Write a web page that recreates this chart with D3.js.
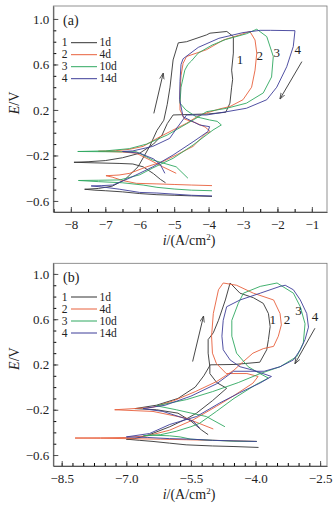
<!DOCTYPE html>
<html>
<head>
<meta charset="utf-8">
<script src="https://cdn.jsdelivr.net/npm/d3@7"></script>
<style>
  body { margin: 0; background: #fff; }
  svg text { font-family: "Times New Roman", "Liberation Serif", Times, serif; fill: #222; }
</style>
</head>
<body>
<div id="chart"></div>
<script>
// series names and colours
const seriesNames = ['1d', '4d', '10d', '14d'];
const seriesColors = ['#333333', '#e8603c', '#2fa860', '#3d3d98'];
const yTicks = [1.0, 0.6, 0.2, -0.2, -0.6];
const aTicks = [-8, -7, -6, -5, -4, -3, -2, -1];
const bTicks = [-8.5, -7.0, -5.5, -4.0, -2.5];

// panel (a): [log i, E], in scan order
const a1 = [[-3.9,-0.56],[-4.5,-0.555],[-5.0,-0.55],[-5.5,-0.545],[-6.0,-0.535],[-6.5,-0.52],[-7.0,-0.51],[-7.3,-0.505],[-7.6,-0.497],
  [-7.2,-0.49],[-6.8,-0.47],[-6.44,-0.415],[-6.05,-0.30],[-5.71,-0.12],[-5.5,0.02],[-5.3,0.11],[-5.2,0.25],[-5.12,0.40],[-5.03,0.64],
  [-4.88,0.79],[-4.64,0.80],[-4.06,0.86],[-3.96,0.875],[-3.47,0.89],[-3.28,0.845],[-3.28,0.70],[-3.33,0.55],[-3.3,0.47],[-3.33,0.40],
  [-3.38,0.26],[-3.5,0.18],[-4.0,0.165],[-4.6,0.16],[-5.03,0.156],[-5.2,0.08],[-5.35,-0.02],[-5.6,-0.1],[-6.0,-0.18],[-6.5,-0.22],
  [-7.0,-0.245],[-7.5,-0.255],[-7.91,-0.26],[-7.3,-0.265],[-6.6,-0.27],[-6.2,-0.275],[-5.9,-0.3],[-5.6,-0.36],[-5.4,-0.41],[-5.25,-0.44]];
const a2 = [[-3.9,-0.465],[-4.5,-0.46],[-5.0,-0.455],[-5.5,-0.45],[-6.1,-0.445],[-6.5,-0.42],[-6.8,-0.39],[-6.98,-0.378],[-6.6,-0.372],
  [-6.29,-0.357],[-5.8,-0.3],[-5.33,-0.254],[-4.9,-0.19],[-4.45,-0.12],[-4.07,-0.005],[-3.95,0.01],[-4.1,0.05],[-4.4,0.09],[-4.7,0.12],
  [-4.83,0.2],[-4.83,0.35],[-4.8,0.5],[-4.74,0.61],[-4.64,0.67],[-4.06,0.73],[-3.57,0.815],[-3.09,0.86],[-2.8,0.89],[-2.65,0.815],
  [-2.6,0.70],[-2.65,0.55],[-2.75,0.40],[-3.0,0.29],[-3.38,0.23],[-3.67,0.21],[-4.25,0.156],[-4.64,0.083],[-5.03,0.024],[-5.41,-0.035],
  [-5.9,-0.12],[-6.3,-0.146],[-6.7,-0.158],[-7.2,-0.163],[-6.5,-0.17],[-6.1,-0.18],[-5.7,-0.24],[-5.33,-0.30],[-4.94,-0.357]];
const a3 = [[-3.9,-0.51],[-4.5,-0.505],[-5.0,-0.495],[-5.5,-0.48],[-5.9,-0.46],[-6.5,-0.44],[-7.2,-0.43],[-7.78,-0.42],[-7.2,-0.418],
  [-6.58,-0.415],[-6.0,-0.37],[-5.62,-0.31],[-5.03,-0.225],[-4.45,-0.108],[-3.87,0.024],[-3.63,0.068],[-3.75,0.1],[-3.97,0.112],
  [-4.36,0.14],[-4.66,0.2],[-4.83,0.26],[-4.8,0.4],[-4.69,0.55],[-4.6,0.6],[-4.5,0.63],[-4.3,0.7],[-3.9,0.77],[-3.5,0.82],[-2.9,0.87],
  [-2.6,0.91],[-2.31,0.845],[-2.12,0.67],[-2.17,0.49],[-2.41,0.35],[-2.9,0.26],[-3.47,0.215],[-4.06,0.185],[-4.4,0.12],[-4.8,0.05],
  [-5.2,-0.02],[-5.8,-0.1],[-6.3,-0.14],[-7.0,-0.16],[-7.8,-0.165],[-7.0,-0.167],[-6.1,-0.167],[-5.62,-0.24],[-4.94,-0.30],[-4.6,-0.40]];
const a4 = [[-3.9,-0.556],[-4.5,-0.55],[-5.0,-0.54],[-5.5,-0.53],[-6.0,-0.525],[-6.58,-0.497],[-7.0,-0.48],[-7.41,-0.468],[-7.1,-0.465],
  [-6.78,-0.46],[-6.3,-0.40],[-5.62,-0.30],[-5.03,-0.196],[-4.45,-0.08],[-4.02,0.01],[-3.97,0.053],[-4.26,0.068],[-4.74,0.14],[-4.84,0.29],
  [-4.83,0.45],[-4.8,0.6],[-4.74,0.65],[-4.3,0.75],[-3.7,0.83],[-3.0,0.88],[-2.5,0.9],[-2.2,0.90],[-1.49,0.897],[-1.54,0.757],[-1.73,0.58],
  [-2.02,0.40],[-2.31,0.29],[-2.9,0.215],[-3.47,0.185],[-4.06,0.156],[-4.64,0.156],[-4.9,0.05],[-5.13,-0.05],[-5.62,-0.12],[-6.2,-0.16],
  [-6.5,-0.165],[-6.0,-0.18],[-5.6,-0.23],[-5.4,-0.28],[-5.27,-0.357]];

// panel (b)
const b1 = [[-3.93,-0.533],[-4.5,-0.525],[-5.0,-0.52],[-5.61,-0.51],[-6.0,-0.495],[-6.38,-0.48],[-6.7,-0.47],[-7.0,-0.46],[-6.8,-0.455],
  [-6.46,-0.42],[-5.99,-0.35],[-5.6,-0.28],[-5.37,-0.23],[-5.0,-0.12],[-4.67,-0.01],[-4.9,0.04],[-5.06,0.12],[-5.06,0.18],[-5.1,0.3],
  [-5.1,0.42],[-4.98,0.48],[-4.86,0.59],[-4.7,0.77],[-4.59,0.92],[-4.36,0.83],[-4.05,0.79],[-3.82,0.74],[-3.7,0.65],[-3.66,0.535],
  [-3.7,0.42],[-3.74,0.33],[-3.9,0.22],[-4.5,0.2],[-5.05,0.197],[-5.2,0.1],[-5.4,0.0],[-5.8,-0.1],[-6.3,-0.16],[-6.8,-0.19],[-6.3,-0.2],
  [-5.8,-0.23],[-5.5,-0.3],[-5.25,-0.38],[-5.1,-0.42]];
const b2 = [[-3.97,-0.48],[-4.5,-0.475],[-5.0,-0.47],[-5.6,-0.465],[-6.2,-0.46],[-7.0,-0.455],[-7.6,-0.452],[-8.19,-0.45],[-7.6,-0.448],
  [-7.0,-0.445],[-6.5,-0.43],[-5.99,-0.38],[-5.45,-0.29],[-4.91,-0.17],[-4.52,-0.08],[-4.06,0.035],[-3.94,0.094],[-4.2,0.12],[-4.68,0.12],
  [-4.91,0.21],[-5.0,0.3],[-5.02,0.45],[-4.98,0.65],[-4.86,0.86],[-4.75,0.92],[-4.44,0.90],[-4.05,0.83],[-3.58,0.77],[-3.43,0.65],
  [-3.4,0.55],[-3.47,0.45],[-3.58,0.36],[-3.82,0.34],[-4.06,0.30],[-4.3,0.22],[-4.5,0.15],[-4.9,0.05],[-5.4,-0.04],[-5.9,-0.12],
  [-6.4,-0.18],[-7.27,-0.2],[-6.38,-0.215],[-5.61,-0.275],[-4.98,-0.37]];
const b3 = [[-3.97,-0.48],[-4.5,-0.478],[-5.0,-0.47],[-5.5,-0.46],[-5.75,-0.44],[-6.0,-0.43],[-6.4,-0.425],[-6.6,-0.43],[-6.2,-0.42],
  [-5.84,-0.39],[-5.5,-0.35],[-5.3,-0.32],[-4.91,-0.215],[-4.5,-0.1],[-4.0,0.02],[-3.7,0.08],[-3.9,0.12],[-4.17,0.18],[-4.44,0.30],
  [-4.55,0.45],[-4.55,0.59],[-4.4,0.74],[-4.28,0.83],[-3.89,0.89],[-3.5,0.92],[-3.12,0.83],[-2.96,0.71],[-2.85,0.56],[-2.89,0.39],
  [-3.04,0.27],[-3.43,0.18],[-3.89,0.12],[-4.4,0.04],[-5.0,-0.04],[-5.6,-0.11],[-6.3,-0.165],[-5.84,-0.2],[-5.14,-0.26],[-4.71,-0.35]];
const b4 = [[-3.97,-0.48],[-4.5,-0.475],[-5.0,-0.47],[-5.5,-0.46],[-6.0,-0.455],[-6.5,-0.445],[-7.0,-0.44],[-6.46,-0.41],[-5.99,-0.33],
  [-5.37,-0.26],[-4.83,-0.14],[-4.37,-0.05],[-3.9,0.035],[-3.63,0.094],[-4.06,0.15],[-4.36,0.18],[-4.59,0.24],[-4.75,0.33],[-4.78,0.45],
  [-4.75,0.59],[-4.67,0.71],[-4.36,0.77],[-3.89,0.83],[-3.43,0.89],[-3.31,0.90],[-3.12,0.86],[-2.96,0.77],[-2.81,0.65],[-2.77,0.53],
  [-2.85,0.42],[-2.96,0.33],[-3.12,0.24],[-3.43,0.18],[-3.8,0.14],[-4.51,0.14],[-4.9,0.03],[-5.5,-0.08],[-6.1,-0.16],[-6.61,-0.19],
  [-6.15,-0.215],[-5.45,-0.30],[-5.3,-0.36]];

const width = 336;
const height = 507;

const svg = d3.select('#chart')
  .append('svg')
    .attr('width', width)
    .attr('height', height);

svg.append('defs').append('marker')
    .attr('id', 'arrow')
    .attr('viewBox', '0 0 10 10')
    .attr('refX', 9).attr('refY', 5)
    .attr('markerWidth', 7).attr('markerHeight', 7)
    .attr('orient', 'auto')
  .append('path')
    .attr('d', 'M0,1.5 L10,5 L0,8.5')
    .attr('fill', 'none')
    .attr('stroke', '#333')
    .attr('stroke-width', 1.2);

const panels = [
  {
    tag: '(a)', series: [a1, a2, a3, a4],
    xDomain: [-8.51, -0.56], yDomain: [-0.697, 1.114], top: 6, bottom: 212,
    ticks: aTicks, minorStep: 0.5, fmt: d3.format('d'),
    legendY: 42.7,
    labels: [[-3.09, 0.64], [-2.51, 0.68], [-2.02, 0.71], [-1.41, 0.73]],
    arrows: [[[-5.59, 0.17], [-5.32, 0.52]], [[-1.29, 0.625], [-1.92, 0.30]]]
  },
  {
    tag: '(b)', series: [b1, b2, b3, b4],
    xDomain: [-8.695, -2.34], yDomain: [-0.697, 1.094], top: 263.3, bottom: 466,
    ticks: bTicks, minorStep: 0.25, fmt: d3.format('.1f'),
    legendY: 297,
    labels: [[-3.6, 0.594], [-3.27, 0.594], [-3.0, 0.68], [-2.62, 0.62]],
    arrows: [[[-5.46, 0.226], [-5.21, 0.623]], [[-2.62, 0.52], [-3.08, 0.21]]]
  }
];

const left = 53.3;
const right = 327;

panels.forEach(p => {
  const x = d3.scaleLinear().domain(p.xDomain).range([left, right]);
  const y = d3.scaleLinear().domain(p.yDomain).range([p.bottom, p.top]);
  const g = svg.append('g');

  // frame
  g.append('rect')
      .attr('x', left).attr('y', p.top)
      .attr('width', right - left).attr('height', p.bottom - p.top)
      .attr('fill', 'none').attr('stroke', '#777').attr('stroke-width', 0.8);

  // minor ticks
  const xMinor = d3.range(Math.ceil(p.xDomain[0] / p.minorStep) * p.minorStep, p.xDomain[1], p.minorStep);
  const yMinor = d3.range(-0.6, 1.05, 0.1);
  g.append('g')
      .attr('transform', `translate(0,${p.bottom})`)
      .call(d3.axisBottom(x).tickValues(xMinor).tickSize(-3).tickFormat(''))
      .call(s => s.select('.domain').remove());
  g.append('g')
      .attr('transform', `translate(${left},0)`)
      .call(d3.axisLeft(y).tickValues(yMinor).tickSize(-3).tickFormat(''))
      .call(s => s.select('.domain').remove());

  // main axes
  const xAxis = g.append('g')
      .attr('transform', `translate(0,${p.bottom})`)
      .call(d3.axisBottom(x).tickValues(p.ticks).tickFormat(p.fmt).tickSize(-5).tickSizeOuter(0).tickPadding(8));
  const yAxis = g.append('g')
      .attr('transform', `translate(${left},0)`)
      .call(d3.axisLeft(y).tickValues(yTicks).tickFormat(d3.format('.1f')).tickSize(-5).tickSizeOuter(0).tickPadding(4));
  [xAxis, yAxis].forEach(a => {
    a.attr('font-family', null);
    a.selectAll('path, line').attr('stroke', '#555');
    a.selectAll('text').style('font-size', '13px').attr('fill', '#222');
  });

  // curves
  const line = d3.line().x(d => x(d[0])).y(d => y(d[1]));
  p.series.forEach((s, i) => {
    g.append('path')
        .datum(s)
        .attr('d', line)
        .attr('fill', 'none')
        .attr('stroke', seriesColors[i])
        .attr('stroke-width', 0.9)
        .attr('stroke-linejoin', 'round');
  });

  // curve numbers
  p.labels.forEach((l, i) => {
    g.append('text')
        .attr('x', x(l[0])).attr('y', y(l[1]))
        .attr('text-anchor', 'middle')
        .attr('dy', '0.35em')
        .style('font-size', '13px')
        .text(i + 1);
  });

  // scan arrows
  p.arrows.forEach(a => {
    g.append('line')
        .attr('x1', x(a[0][0])).attr('y1', y(a[0][1]))
        .attr('x2', x(a[1][0])).attr('y2', y(a[1][1]))
        .attr('stroke', '#333').attr('stroke-width', 0.9)
        .attr('marker-end', 'url(#arrow)');
  });

  // legend
  seriesNames.forEach((n, i) => {
    const ly = p.legendY + i * 12;
    g.append('text').attr('x', 64.5).attr('y', ly).attr('dy', '0.33em')
        .attr('text-anchor', 'middle').style('font-size', '11.5px').text(i + 1);
    g.append('line').attr('x1', 71).attr('x2', 97).attr('y1', ly).attr('y2', ly)
        .attr('stroke', seriesColors[i]).attr('stroke-width', 1);
    g.append('text').attr('x', 99.5).attr('y', ly).attr('dy', '0.33em')
        .style('font-size', '11.5px').text(n);
  });

  // panel tag
  g.append('text')
      .attr('x', 63).attr('y', p.top + 18.5)
      .style('font-size', '14px')
      .text(p.tag);

  // axis titles
  const xt = g.append('text')
      .attr('x', 189).attr('y', p.bottom + 33)
      .attr('text-anchor', 'middle')
      .style('font-size', '14px');
  xt.append('tspan').style('font-style', 'italic').text('i');
  xt.append('tspan').text('/(A/cm');
  xt.append('tspan').attr('dy', -5).style('font-size', '9px').text('2');
  xt.append('tspan').attr('dy', 5).text(')');

  const yt = g.append('text')
      .attr('transform', `translate(19,${(p.top + p.bottom) / 2 - 6}) rotate(-90)`)
      .attr('text-anchor', 'middle')
      .style('font-size', '14px');
  yt.append('tspan').style('font-style', 'italic').text('E');
  yt.append('tspan').text('/V');
});
</script>
</body>
</html>
